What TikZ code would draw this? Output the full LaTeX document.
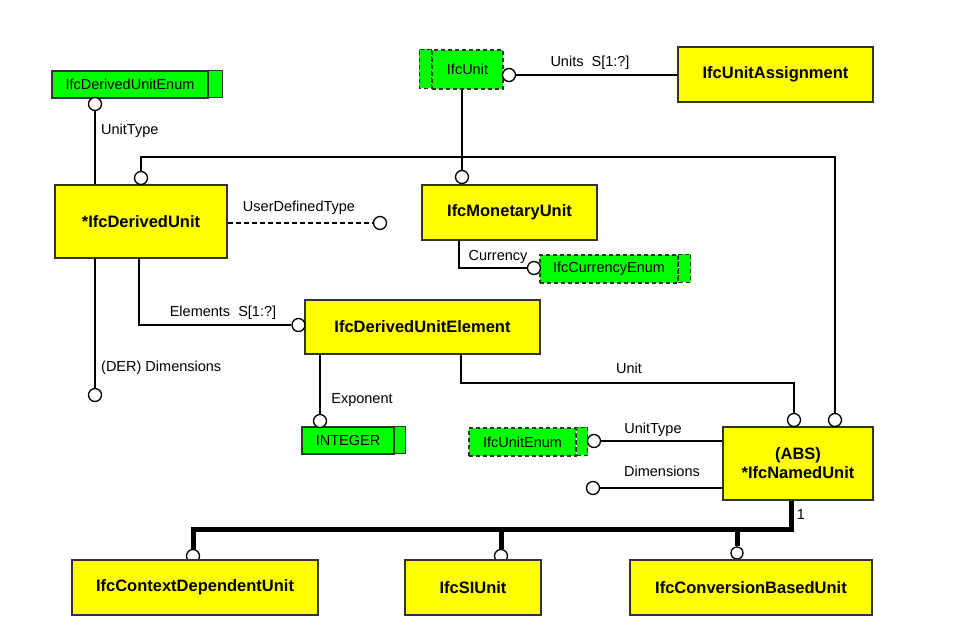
\documentclass[tikz,border=0pt]{standalone}
\usepackage{fontspec}
\setmainfont{Liberation Sans}
\usetikzlibrary{positioning}
\definecolor{entyellow}{RGB}{255,255,0}
\definecolor{typgreen}{RGB}{0,255,0}
\newcommand\entfont{\fontsize{16.5}{19}\selectfont\bfseries}
\newcommand\lblfont{\fontsize{14.5}{17}\selectfont}
\tikzset{
  ent/.style    = {draw=black!80, fill=entyellow, line width=1.3pt, font=\entfont,
                   inner sep=0pt, align=center},
  typ/.style    = {draw=black!80, fill=typgreen, line width=1.3pt, font=\lblfont,
                   inner sep=0pt},
  seltyp/.style = {typ, dash pattern=on 4pt off 3pt},
  typtab/.style = {draw=black!80, fill=typgreen, line width=1.3pt},
  seltab/.style = {typtab, dash pattern=on 4pt off 3pt},
  ring/.style   = {draw, circle, fill=white, line width=1.3pt, minimum size=13pt,
                   inner sep=0pt},
  rel/.style    = {line width=1.4pt},
  opt/.style    = {line width=1.4pt, dash pattern=on 5pt off 3pt},
  sub/.style    = {line width=5pt},
  lbl/.style    = {font=\lblfont, inner sep=1pt},
}

\begin{document}
\begin{tikzpicture}[x=1pt, y=-1pt]
  \useasboundingbox (0,0) rectangle (953,634);

  % types
  \node[typ, minimum width=156, minimum height=27] (dunitenum) at (130,84.5) {IfcDerivedUnitEnum};
  \draw[typtab] (dunitenum.north east) rectangle ++(14,27);
  \node[seltyp, minimum width=71, minimum height=39] (unitsel) at (467.5,69.5) {IfcUnit};
  \draw[seltab] (unitsel.north west) rectangle ++(-12,39);
  \node[seltyp, minimum width=138, minimum height=28] (currenum) at (609,269) {IfcCurrencyEnum};
  \draw[seltab] (currenum.north east) rectangle ++(12,28);
  \node[seltyp, minimum width=107, minimum height=28] (unitenum) at (522.5,442) {IfcUnitEnum};
  \draw[seltab] (unitenum.north east) rectangle ++(11,28);
  \node[typ, minimum width=92, minimum height=27] (integer) at (348,440.5) {INTEGER};
  \draw[typtab] (integer.north east) rectangle ++(11,27);

  % entities
  \node[ent, minimum width=195, minimum height=55] (assign)  at (775.5,74.5) {IfcUnitAssignment};
  \node[ent, minimum width=172, minimum height=73] (derunit) at (141,221.5) {*IfcDerivedUnit};
  \node[ent, minimum width=175, minimum height=55] (monunit) at (509.5,212.5) {IfcMonetaryUnit};
  \node[ent, minimum width=235, minimum height=54] (duelem)  at (422.5,327) {IfcDerivedUnitElement};
  \node[ent, minimum width=150, minimum height=73] (named)   at (798,463.5) {(ABS)\\*IfcNamedUnit};

  % rings
  \node[ring] (r1)  at (95,104) {};
  \node[ring] (r2)  at (509,75) {};
  \node[ring] (r3)  at (462,177) {};
  \node[ring] (r4)  at (141,178) {};
  \node[ring] (r5)  at (835,420) {};
  \node[ring] (r6)  at (794,420) {};
  \node[ring] (r7)  at (380,223) {};
  \node[ring] (r8)  at (95,395) {};
  \node[ring] (r9)  at (298.5,325) {};
  \node[ring] (r10) at (534,268) {};
  \node[ring] (r11) at (320,421) {};
  \node[ring] (r12) at (594,441) {};
  \node[ring] (r13) at (593,488) {};
  \node[ring, minimum size=13pt] (r14) at (193,556) {};
  \node[ring, minimum size=13pt] (r15) at (501,556) {};
  \node[ring, minimum size=12pt] (r16) at (737,553) {};

  % subtypes
  \node[ent, minimum width=246, minimum height=55] (ctxunit)  at (195,587.5) {IfcContextDependentUnit};
  \node[ent, minimum width=136, minimum height=55] (siunit)   at (473,587.5) {IfcSIUnit};
  \node[ent, minimum width=242, minimum height=55] (convunit) at (751,587.5) {IfcConversionBasedUnit};

  \coordinate (topbend)  at (835,157);
  \coordinate (unitbend) at (794,383);
  \coordinate (hub)      at (791,529);

  % relations
  \draw[rel] (r1) -- (derunit.north -| r1);
  \draw[rel] (r2) -- (assign.west |- r2);
  \draw[rel] (unitsel.south -| r3) -- (r3);
  \draw[rel] (r4) |- (topbend) -- (r5);
  \draw[rel] ([xshift=38.5pt]duelem.south) |- (unitbend) -- (r6);
  \draw[opt] (derunit.east |- r7) -- (r7);
  \draw[rel] (derunit.south -| r8) -- (r8);
  \draw[rel] ([xshift=-2pt]derunit.south) |- (r9);
  \draw[rel] ([xshift=-50.5pt]monunit.south) |- (r10);
  \draw[rel] (duelem.south -| r11) -- (r11);
  \draw[rel] (named.west |- r12) -- (r12);
  \draw[rel] (named.west |- r13) -- (r13);
  \draw[sub] (named.south -| hub) -- (hub) -| (r14);
  \draw[sub] (r15 |- hub) -- (r15);
  \draw[sub] (r16 |- hub) -- (r16);

  % labels
  \node[lbl, anchor=west] (l1) at (100,131) {UnitType};
  \node[lbl] (l2)  at (590,63) {Units~ S[1:?]};
  \node[lbl] (l3)  at (299,208) {UserDefinedType};
  \node[lbl] (l4)  at (223,313) {Elements~ S[1:?]};
  \node[lbl, anchor=west] (l5) at (100,368) {(DER) Dimensions};
  \node[lbl] (l6)  at (498,257) {Currency};
  \node[lbl] (l7)  at (362,400) {Exponent};
  \node[lbl] (l8)  at (629,368) {Unit};
  \node[lbl] (l9)  at (653,430) {UnitType};
  \node[lbl] (l10) at (662,471) {Dimensions};
  \node[lbl] (l11) at (801,515) {1};
\end{tikzpicture}
\end{document}
